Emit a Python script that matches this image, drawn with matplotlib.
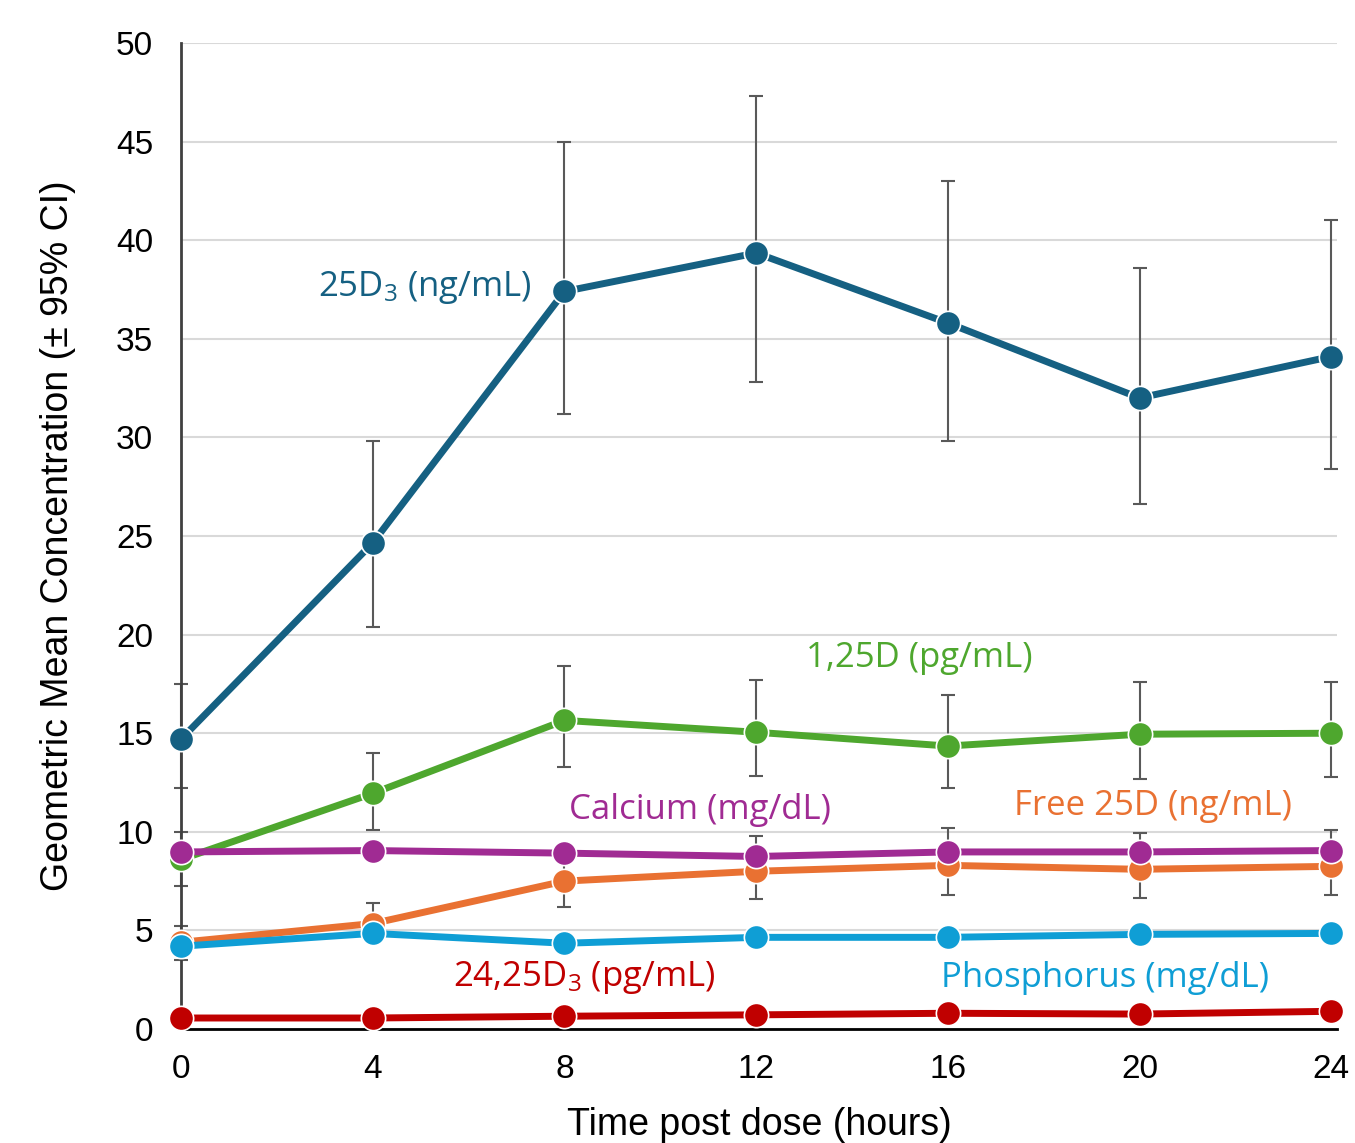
import numpy as np
import matplotlib
matplotlib.use("Agg")
import matplotlib.pyplot as plt

plt.rcParams['font.family'] = 'Liberation Sans'
plt.rcParams['mathtext.default'] = 'regular'

hours = [0, 4, 8, 12, 16, 20, 24]

# 25D3 (ng/mL)
d25 = [14.7, 24.65, 37.4, 39.35, 35.8, 32.0, 34.1]
d25_lo = [12.2, 20.4, 31.2, 32.8, 29.8, 26.6, 28.4]
d25_hi = [17.5, 29.8, 45.0, 47.3, 43.0, 38.6, 41.0]

# 1,25D (pg/mL)
d125 = [8.6, 11.95, 15.65, 15.05, 14.35, 14.95, 15.0]
d125_lo = [7.25, 10.1, 13.3, 12.85, 12.2, 12.7, 12.8]
d125_hi = [10.0, 14.0, 18.4, 17.7, 16.95, 17.6, 17.6]

# Free 25D (ng/mL)
free25 = [4.4, 5.35, 7.5, 8.0, 8.3, 8.1, 8.25]
free25_lo = [3.5, 4.5, 6.2, 6.6, 6.8, 6.65, 6.8]
free25_hi = [5.2, 6.4, 8.8, 9.8, 10.2, 9.95, 10.1]

calcium = [8.98, 9.05, 8.92, 8.75, 8.98, 8.98, 9.05]
phosphorus = [4.2, 4.85, 4.35, 4.65, 4.65, 4.8, 4.85]
d2425 = [0.56, 0.56, 0.65, 0.72, 0.8, 0.76, 0.9]

c_25 = '#156082'
c_125 = '#4EA72E'
c_free = '#E97132'
c_ca = '#A02B93'
c_p = '#0F9ED5'
c_2425 = '#C00000'

fig = plt.figure(figsize=(13.55, 11.43), dpi=100)
ax = fig.add_axes([0.1336, 0.0997, 0.8531, 0.8627])

def err(v, lo, hi):
    v = np.array(v); return [v - np.array(lo), np.array(hi) - v]

for v, lo, hi in [(d25, d25_lo, d25_hi), (d125, d125_lo, d125_hi), (free25, free25_lo, free25_hi)]:
    ax.errorbar(hours, v, yerr=err(v, lo, hi), fmt='none', ecolor='#595959',
                elinewidth=1.5, capsize=5, capthick=1.5, zorder=2, clip_on=False)

series = [(d25, c_25), (d125, c_125), (free25, c_free), (calcium, c_ca),
          (phosphorus, c_p), (d2425, c_2425)]
for i, (v, c) in enumerate(series):
    ax.plot(hours, v, color=c, lw=5, marker='o', ms=17.5, mec='white', mew=1.2,
            zorder=3 + i, clip_on=False)

lab_kw = dict(fontsize=25, family='Open Sans', va='center', ha='left')
ax.text(2.86, 37.6, '25D$_3$ (ng/mL)', color=c_25, **lab_kw)
ax.text(13.04, 18.8, '1,25D (pg/mL)', color=c_125, **lab_kw)
ax.text(8.1, 11.1, 'Calcium (mg/dL)', color=c_ca, **lab_kw)
ax.text(17.38, 11.3, 'Free 25D (ng/mL)', color=c_free, **lab_kw)
ax.text(5.68, 2.6, '24,25D$_3$ (pg/mL)', color=c_2425, **lab_kw)
ax.text(15.86, 2.6, 'Phosphorus (mg/dL)', color=c_p, **lab_kw)

ax.set_xlim(0, 24.12)
ax.set_ylim(0, 50)
ax.set_xticks(hours)
ax.set_yticks(range(0, 51, 5))
ax.tick_params(length=0, labelsize=24)
ax.tick_params(axis='x', pad=18)
ax.tick_params(axis='y', pad=20)
ax.grid(axis='y', color='#d9d9d9', lw=1.5)
ax.set_axisbelow(True)
for s in ['top', 'right']:
    ax.spines[s].set_visible(False)
ax.spines['left'].set_color('#404040')
ax.spines['left'].set_linewidth(2)
ax.spines['bottom'].set_color('black')
ax.spines['bottom'].set_linewidth(2)

ax.set_xlabel('Time post dose (hours)', fontsize=27, labelpad=16)
ax.set_ylabel('Geometric Mean Concentration (± 95% CI)', fontsize=27, labelpad=29)

fig.savefig('out.png', dpi=100)
